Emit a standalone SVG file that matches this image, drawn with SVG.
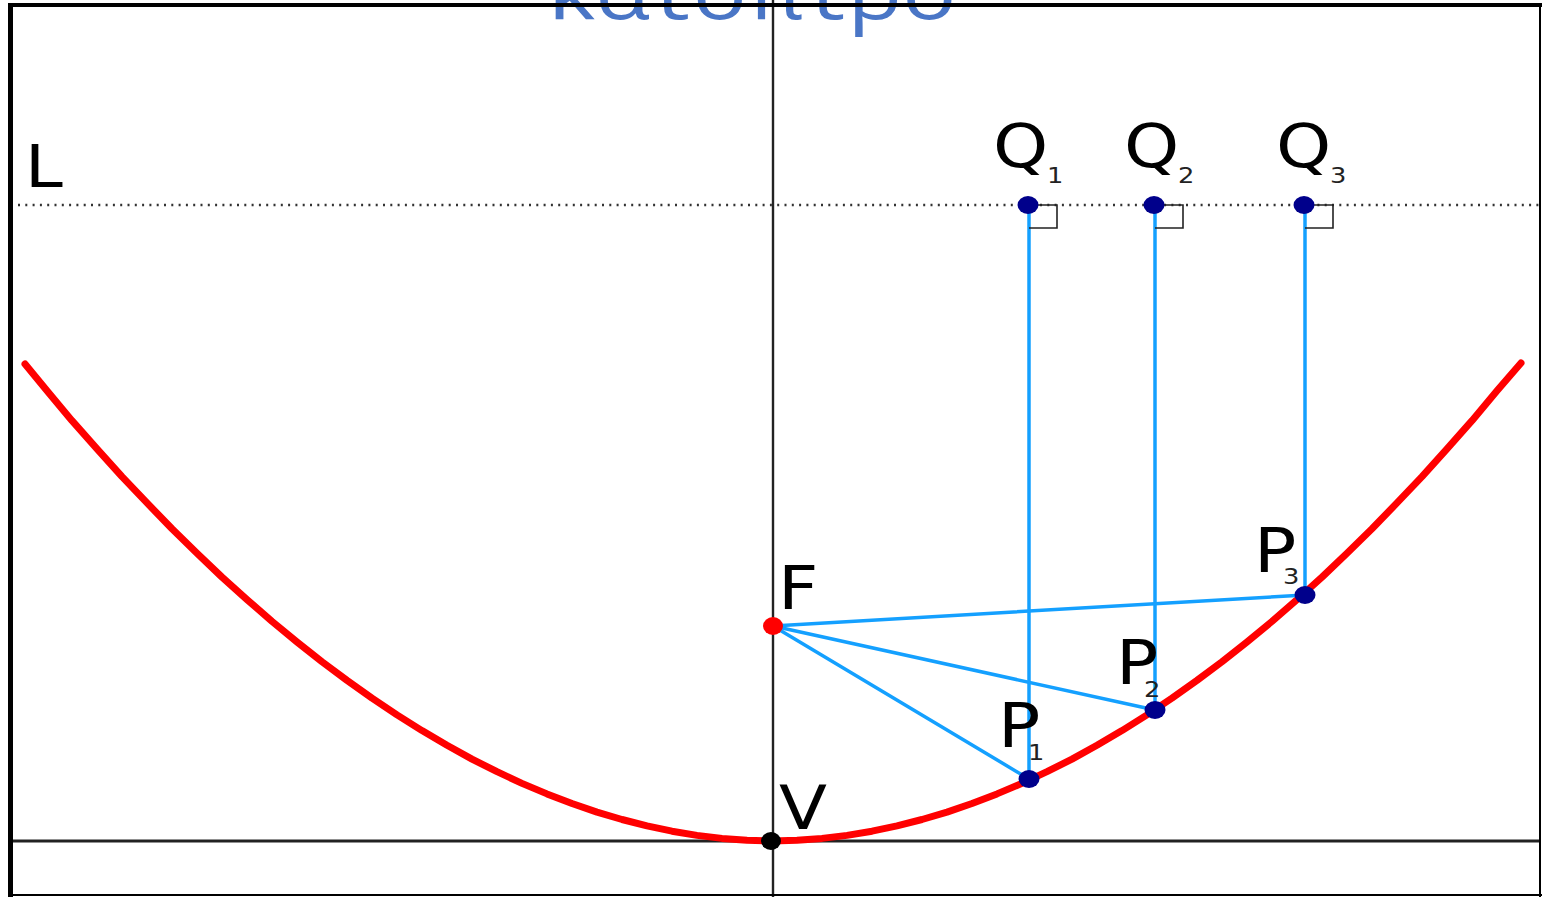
<svg xmlns="http://www.w3.org/2000/svg" width="1542" height="897" viewBox="0 0 1542 897">
<style>
.lbl{font-family:"DejaVu Sans","Liberation Sans",sans-serif;font-size:60px;fill:#000}
.sub{font-family:"DejaVu Sans","Liberation Sans",sans-serif;font-size:22px;fill:#222}
.ray{stroke:#14a0ff;stroke-width:3.5;fill:none;stroke-linecap:round}
.ra{stroke:#222;stroke-width:1.6;fill:none}
.nd{fill:#00008b}
.ax{stroke:#222;fill:none}
</style>
<rect x="0" y="0" width="1542" height="897" fill="#fff"/>
<text transform="translate(548,19) scale(1.2,1)" style="font-family:'Open Sans','DejaVu Sans',sans-serif;font-size:75px;fill:#4a76c6">κατόπτρο</text>
<g id="axes">
<line class="ax" x1="773" y1="0" x2="773" y2="897" stroke-width="2.4"/>
<line class="ax" x1="10" y1="841" x2="1540" y2="841" stroke-width="3"/>
</g>
<g id="directrix-L">
<line x1="18" y1="205" x2="1540" y2="205" stroke="#333" stroke-width="2.5" stroke-dasharray="2 5.3"/>
<text class="lbl" transform="translate(25,187) scale(1.17,1)" style="font-size:58px">L</text>
</g>
<g id="parabola">
<polyline fill="none" stroke="#ff0000" stroke-width="7" stroke-linecap="round" stroke-linejoin="round" points="25,364 47,390.8 72,420.7 97,448.8 122,476.6 147,502.9 172,528.8 197,553.2 222,577.1 247,599.6 272,621.4 297,642 322,661.7 347,680.4 372,698.2 397,714.9 422,730.6 447,745.3 472,759.1 497,771.7 522,783.35 547,793.9 572,803.5 597,812.1 622,819.5 647,825.9 672,831.2 697,835.35 722,838.4 747,840.3 772,841 797,840.3 822,838.4 847,835.35 872,831.2 897,825.9 922,819.5 947,812.1 972,803.5 997,793.9 1022,783.35 1047,771.7 1072,759.1 1097,745.3 1122,730.6 1147,714.9 1172,698.2 1197,680.4 1222,661.7 1247,642 1272,621.4 1297,599.6 1322,577.1 1347,553.2 1372,528.8 1397,502.9 1422,476.6 1447,448.8 1472,420.7 1497,390.8 1521,363"/>
</g>
<g id="connectors">
<line class="ray" x1="1029" y1="205" x2="1029" y2="779"/>
<line class="ray" x1="1155" y1="205" x2="1155" y2="710"/>
<line class="ray" x1="1305" y1="205" x2="1305" y2="595"/>
<line class="ray" x1="773" y1="626" x2="1029" y2="779"/>
<line class="ray" x1="773" y1="626" x2="1155" y2="710"/>
<line class="ray" x1="773" y1="626" x2="1305" y2="595"/>
</g>
<g id="right-angles">
<path class="ra" d="M1029,205 H1057 V228 H1029"/>
<path class="ra" d="M1155,205 H1183 V228 H1155"/>
<path class="ra" d="M1305,205 H1333 V228 H1305"/>
</g>
<g id="Q1">
<ellipse class="nd" cx="1028" cy="205" rx="10.5" ry="9"/>
<text class="lbl" transform="translate(993,167) scale(1.17,1)">Q</text>
<text class="sub" transform="translate(1047,183) scale(1.17,1)">1</text>
</g>
<g id="Q2">
<ellipse class="nd" cx="1154" cy="205" rx="10.5" ry="9"/>
<text class="lbl" transform="translate(1124,167) scale(1.17,1)">Q</text>
<text class="sub" transform="translate(1178,183) scale(1.17,1)">2</text>
</g>
<g id="Q3">
<ellipse class="nd" cx="1304" cy="205" rx="10.5" ry="9"/>
<text class="lbl" transform="translate(1276,167) scale(1.17,1)">Q</text>
<text class="sub" transform="translate(1330,183) scale(1.17,1)">3</text>
</g>
<g id="P1">
<ellipse class="nd" cx="1029" cy="779" rx="10.5" ry="9"/>
<text class="lbl" transform="translate(998,747) scale(1.17,1)">P</text>
<text class="sub" transform="translate(1028,760) scale(1.17,1)">1</text>
</g>
<g id="P2">
<ellipse class="nd" cx="1155" cy="710" rx="10.5" ry="9"/>
<text class="lbl" transform="translate(1116,684) scale(1.17,1)">P</text>
<text class="sub" transform="translate(1144,697) scale(1.17,1)">2</text>
</g>
<g id="P3">
<ellipse class="nd" cx="1305" cy="595" rx="10.5" ry="9"/>
<text class="lbl" transform="translate(1254,572) scale(1.17,1)">P</text>
<text class="sub" transform="translate(1283,584) scale(1.17,1)">3</text>
</g>
<g id="F">
<ellipse cx="773" cy="626" rx="10" ry="9" fill="#ff0000"/>
<text class="lbl" transform="translate(778,609) scale(1.17,1)">F</text>
</g>
<g id="V">
<ellipse cx="771" cy="841" rx="10" ry="9" fill="#000"/>
<text class="lbl" transform="translate(779,829) scale(1.17,1)">V</text>
</g>
<g id="frame">
<line x1="8" y1="5" x2="1542" y2="5" stroke="#000" stroke-width="4"/>
<line x1="10.5" y1="3" x2="10.5" y2="897" stroke="#000" stroke-width="5"/>
<line x1="1540" y1="3" x2="1540" y2="897" stroke="#000" stroke-width="2"/>
<line x1="8" y1="895" x2="1542" y2="895" stroke="#000" stroke-width="2"/>
</g>
</svg>
